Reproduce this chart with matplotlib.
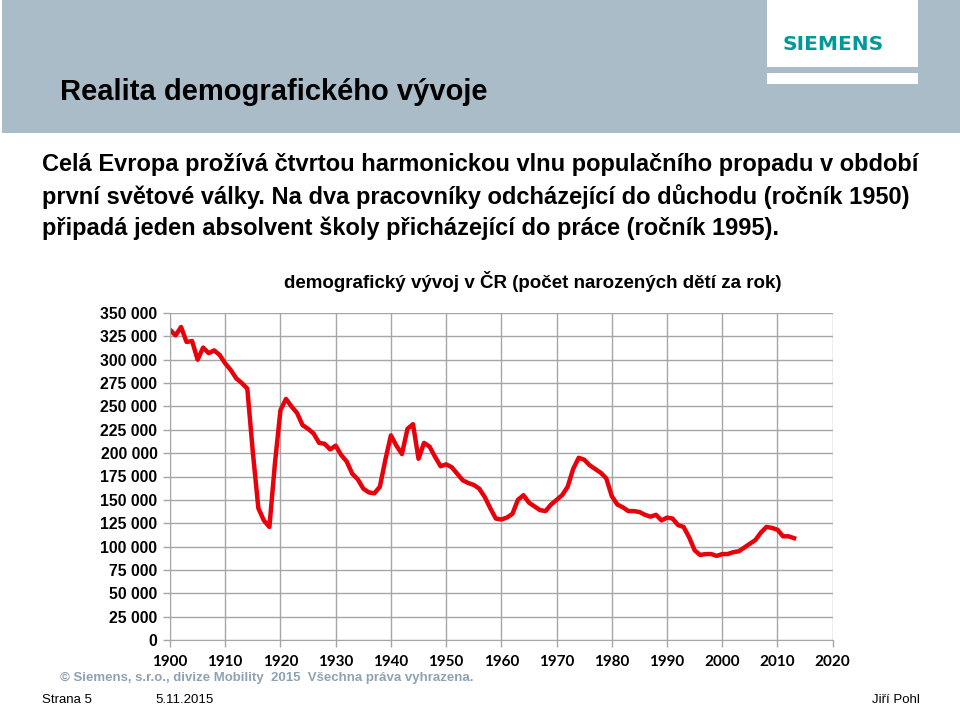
import matplotlib.pyplot as plt
from matplotlib.patches import Rectangle
from matplotlib.ticker import FuncFormatter, MultipleLocator

# births per year in CR
years = list(range(1900, 2014))
births = [
    332, 326, 335, 319, 320, 300, 313, 307, 310, 305,
    296, 289, 280, 275, 269, 201, 141, 128, 121, 189,
    246, 258, 250, 243, 230, 226, 221, 211, 210, 204,
    208, 198, 191, 178, 172, 162, 158, 157, 164, 193,
    219, 208, 199, 226, 231, 194, 211, 207, 196, 186,
    188, 185, 178, 171, 168, 166, 162, 153, 141, 130,
    129, 131, 135, 150, 155, 147, 143, 139, 138, 145,
    150, 155, 164, 183, 195, 193, 187, 183, 179, 173,
    154, 145, 142, 138, 138, 137, 134, 132, 134, 128,
    131, 130, 123, 121, 110, 96, 91, 92, 92, 90,
    92, 92, 94, 95, 99, 103, 107, 115, 121, 120,
    118, 111, 111, 109,
]
births = [b * 1000 for b in births]

title = "Realita demografického vývoje"
lead = [
    "Celá Evropa prožívá čtvrtou harmonickou vlnu populačního propadu v období",
    "první světové války. Na dva pracovníky odcházející do důchodu (ročník 1950)",
    "připadá jeden absolvent školy přicházející do práce (ročník 1995).",
]
chart_title = "demografický vývoj v ČR (počet narozených dětí za rok)"

W, H = 960, 705
fig = plt.figure(figsize=(W / 100, H / 100), dpi=100)
fig.patch.set_facecolor("white")


def px(x, y):
    return x / W, 1 - y / H


# header band + logo boxes
band = "#abbcc9"
fig.add_artist(Rectangle(px(2, 133), 958 / W, 133 / H, transform=fig.transFigure,
                         facecolor=band, edgecolor="none"))
fig.add_artist(Rectangle(px(767, 67), 151 / W, 67 / H, transform=fig.transFigure,
                         facecolor="white", edgecolor="none"))
fig.add_artist(Rectangle(px(767, 84), 151 / W, 11 / H, transform=fig.transFigure,
                         facecolor="white", edgecolor="none"))
fig.text(*px(833, 44), "SIEMENS", color="#009999", fontsize=14.5, fontweight="bold",
         family="DejaVu Sans", ha="center", va="center")

fig.text(*px(60, 92), title, fontsize=21, fontweight="bold",
         family="Liberation Sans", ha="left", va="center")
for i, line in enumerate(lead):
    fig.text(*px(42, 165 + 31.5 * i), line, fontsize=17, fontweight="bold",
             family="Liberation Sans", ha="left", va="center")

ax = fig.add_axes([170 / W, 65 / H, 662.7 / W, 327 / H])
ax.plot(years, births, color="#e8000b", linewidth=3.2, solid_joinstyle="round")
ax.set_xlim(1900, 2020)
ax.set_ylim(0, 350000)
ax.xaxis.set_major_locator(MultipleLocator(10))
ax.yaxis.set_major_locator(MultipleLocator(25000))
ax.yaxis.set_major_formatter(FuncFormatter(lambda v, _: f"{int(v):,}".replace(",", " ")))
ax.grid(True, color="#a6a6a6", linewidth=1.0)
ax.set_axisbelow(True)
for s in ["top", "right"]:
    ax.spines[s].set_visible(False)
for s in ["left", "bottom"]:
    ax.spines[s].set_color("#a6a6a6")
ax.tick_params(axis="both", color="#a6a6a6", length=5, width=1.0)
ax.tick_params(axis="y", pad=4)
ax.tick_params(axis="x", pad=6)
for lab in ax.get_yticklabels():
    lab.set_fontfamily("Liberation Sans")
    lab.set_fontweight("bold")
    lab.set_fontsize(11.3)
for lab in ax.get_xticklabels():
    lab.set_fontfamily("Lato")
    lab.set_fontweight("bold")
    lab.set_fontsize(11)

fig.text(*px(533, 281), chart_title, fontsize=13.5, fontweight="bold",
         family="Liberation Sans", ha="center", va="center")

fig.text(*px(60, 678), "© Siemens, s.r.o., divize Mobility  2015  Všechna práva vyhrazena.",
         color="#8ea2b4", fontsize=9.5, fontweight="bold", family="Liberation Sans",
         ha="left", va="center")
fig.text(*px(42, 700), "Strana 5", fontsize=9.5, family="Liberation Sans", ha="left", va="center")
fig.text(*px(155, 700), "5.11.2015", fontsize=9.5, family="Liberation Sans", ha="left", va="center")
fig.text(*px(920, 700), "Jiří Pohl", fontsize=9.5, family="Liberation Sans", ha="right", va="center")

fig.savefig("out.png", dpi=100)
